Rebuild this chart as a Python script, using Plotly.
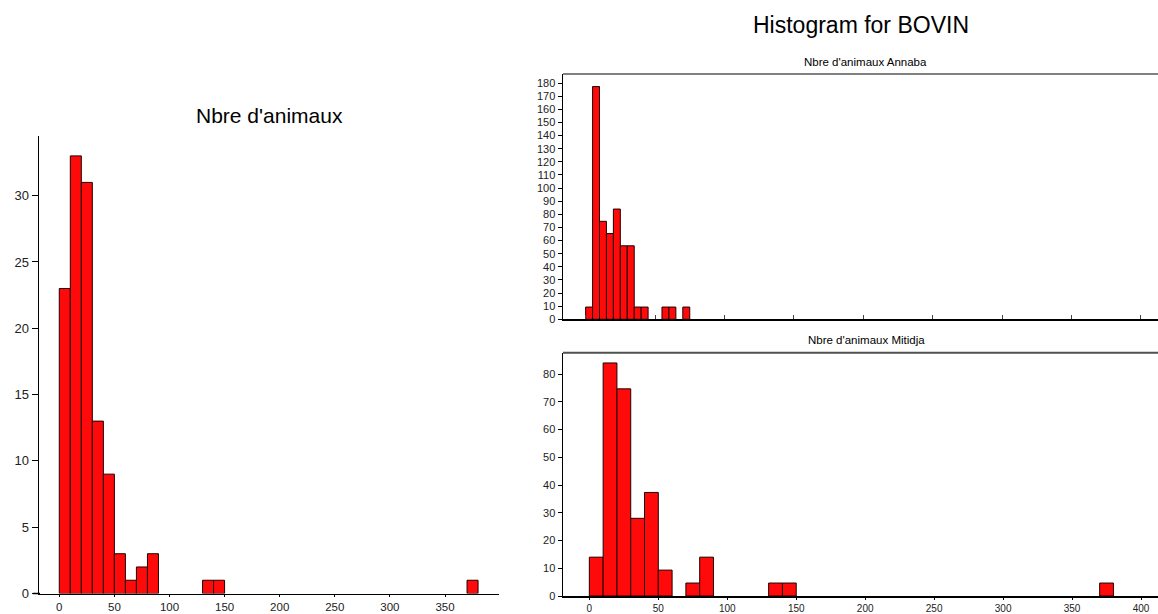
import plotly.graph_objects as go

W, H = 1158, 614

# ---- data ----
all_bin_lefts = [0, 10, 20, 30, 40, 50, 60, 70, 80, 130, 140, 370]
all_counts = [23, 33, 31, 13, 9, 3, 1, 2, 3, 1, 1, 1]

annaba_bin_lefts = [0, 5, 10, 15, 20, 25, 30, 35, 40, 55, 60, 70]
annaba_values = [9.33, 177.33, 74.67, 65.33, 84.0, 56.0, 56.0, 9.33, 9.33, 9.33, 9.33, 9.33]

mitidja_bin_lefts = [0, 10, 20, 30, 40, 50, 70, 80, 130, 140, 370]
mitidja_values = [14.0, 84.0, 74.67, 28.0, 37.33, 9.33, 4.67, 14.0, 4.67, 4.67, 4.67]

left_x_ticks = [0, 50, 100, 150, 200, 250, 300, 350]
left_y_ticks = [0, 5, 10, 15, 20, 25, 30]
right_x_ticks = [0, 50, 100, 150, 200, 250, 300, 350, 400]
annaba_y_ticks = list(range(0, 181, 10))
mitidja_y_ticks = list(range(0, 81, 10))

main_title = "Histogram for BOVIN"
left_title = "Nbre d'animaux"
annaba_title = "Nbre d'animaux Annaba"
mitidja_title = "Nbre d'animaux Mitidja"


def px_x(p):
    return p / W


def px_y(p):
    return 1 - p / H


FILL = "#ff0a0a"
EDGE = "#200000"
FONT = "Liberation Sans, Arial, sans-serif"

fig = go.Figure()
fig.add_trace(go.Bar(x=all_bin_lefts, y=all_counts, width=10, offset=0,
                     marker=dict(color=FILL, line=dict(color=EDGE, width=1)),
                     xaxis="x", yaxis="y", showlegend=False))
fig.add_trace(go.Bar(x=annaba_bin_lefts, y=annaba_values, width=5, offset=0,
                     marker=dict(color=FILL, line=dict(color=EDGE, width=1)),
                     xaxis="x2", yaxis="y2", showlegend=False))
fig.add_trace(go.Bar(x=mitidja_bin_lefts, y=mitidja_values, width=10, offset=0,
                     marker=dict(color=FILL, line=dict(color=EDGE, width=1)),
                     xaxis="x3", yaxis="y3", showlegend=False))

axis_common = dict(showgrid=False, zeroline=False, showline=True, linecolor="#000",
                   linewidth=1.5, tickcolor="#000", tickwidth=1, automargin=False,
                   fixedrange=True)

LB = 593.5    # left panel bottom (px)
RB = 596.0    # lower right panel bottom (px)

fig.update_layout(
    width=W, height=H,
    margin=dict(l=0, r=0, t=0, b=0),
    paper_bgcolor="white", plot_bgcolor="white",
    font=dict(family=FONT, color="#111"),
    showlegend=False,
    xaxis=dict(axis_common, domain=[px_x(39), px_x(499)], range=[-18.4, 399.0],
               tickmode="array", tickvals=left_x_ticks, ticks="outside", ticklen=2,
               tickfont=dict(size=11.5, color="#222"), anchor="y"),
    yaxis=dict(axis_common, domain=[px_y(LB), px_y(136)], range=[0, 34.5],
               tickmode="array", tickvals=left_y_ticks, ticks="outside", ticklen=6,
               tickfont=dict(size=13, color="#222"), anchor="x"),
    xaxis2=dict(axis_common, domain=[px_x(563), 1.0], range=[-16.3, 412.3],
                tickmode="array", tickvals=right_x_ticks, ticks="inside", ticklen=4,
                tickcolor="#444", showticklabels=False, anchor="y2"),
    yaxis2=dict(axis_common, domain=[px_y(319.3), px_y(74)], range=[0, 186.9],
                tickmode="array", tickvals=annaba_y_ticks, ticks="outside", ticklen=4,
                tickfont=dict(size=11, color="#222"), anchor="x2"),
    xaxis3=dict(axis_common, domain=[px_x(563), 1.0], range=[-19.1, 412.3],
                tickmode="array", tickvals=right_x_ticks, ticks="outside", ticklen=2,
                tickfont=dict(size=10, color="#222"), anchor="y3"),
    yaxis3=dict(axis_common, domain=[px_y(RB), px_y(352.7)], range=[0, 87.7],
                tickmode="array", tickvals=mitidja_y_ticks, ticks="outside", ticklen=4,
                tickfont=dict(size=11, color="#222"), anchor="x3"),
)

# frame top lines of the right panels and small x-axis extension on the left panel
fig.add_shape(type="line", xref="paper", yref="paper",
              x0=px_x(563), x1=1.0, y0=px_y(74), y1=px_y(74),
              line=dict(color="#808080", width=2))
fig.add_shape(type="line", xref="paper", yref="paper",
              x0=px_x(563), x1=1.0, y0=px_y(352.7), y1=px_y(352.7),
              line=dict(color="#505050", width=2))
fig.add_shape(type="line", xref="paper", yref="paper",
              x0=px_x(33), x1=px_x(40), y0=px_y(LB), y1=px_y(LB),
              line=dict(color="#000", width=1.5))

annots = [
    dict(text=main_title, x=px_x(861), y=px_y(25), size=23),
    dict(text=left_title, x=px_x(269), y=px_y(116), size=21),
    dict(text=annaba_title, x=px_x(865), y=px_y(62), size=11.5),
    dict(text=mitidja_title, x=px_x(866), y=px_y(340), size=11.5),
]
for a in annots:
    fig.add_annotation(text=a["text"], x=a["x"], y=a["y"], xref="paper", yref="paper",
                       xanchor="center", yanchor="middle", showarrow=False,
                       font=dict(size=a["size"], color="#000", family=FONT))

fig.write_html(
    "out.html",
    config={"displayModeBar": False, "staticPlot": True},
    post_script="document.body.style.margin='0px';document.body.style.overflow='hidden';",
)
